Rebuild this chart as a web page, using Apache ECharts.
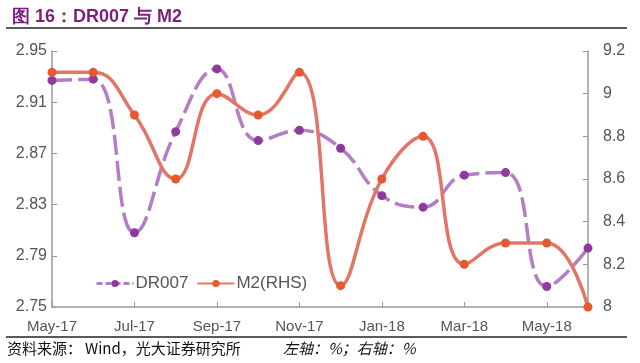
<!DOCTYPE html>
<html><head><meta charset="utf-8">
<script src="https://cdn.jsdelivr.net/npm/echarts@6/dist/echarts.min.js"></script>
<style>html,body{margin:0;padding:0;background:#fff;}#c{width:640px;height:363px;}</style>
</head><body><div id="c"></div>
<script>
const categories = ['May-17','Jun-17','Jul-17','Aug-17','Sep-17','Oct-17','Nov-17','Dec-17','Jan-18','Feb-18','Mar-18','Apr-18','May-18','Jun-18'];
const dr007 = [2.927, 2.928, 2.808, 2.887, 2.936, 2.880, 2.888, 2.874, 2.837, 2.828, 2.853, 2.855, 2.766, 2.796];
const m2 = [9.1, 9.1, 8.9, 8.6, 9.0, 8.9, 9.1, 8.1, 8.6, 8.8, 8.2, 8.3, 8.3, 8.0];
const leftTicks = {min: 2.75, max: 2.95, interval: 0.04};
const rightTicks = {min: 8, max: 9.2, interval: 0.2};

const chart = echarts.init(document.getElementById('c'), null, {renderer: 'canvas'});
const font = 'Liberation Sans, Arial, sans-serif';
chart.setOption({
  animation: false,
  backgroundColor: '#fff',
  title: {
    text: '图 16：DR007 与 M2', left: 7, top: 3,
    textStyle: {fontSize: 18, fontWeight: 'bold', color: '#7A1F7D', fontFamily: font}
  },
  graphic: [
    {type: 'line', shape: {x1: 6, y1: 28, x2: 627, y2: 28}, style: {stroke: '#222', lineWidth: 1.5}},
    {type: 'line', shape: {x1: 6, y1: 337, x2: 627, y2: 337}, style: {stroke: '#222', lineWidth: 1.5}},
    {type: 'text', left: 7, top: 341, style: {text: '资料来源：', font: '15px "Noto Sans CJK SC", sans-serif', fill: '#111'}},
    {type: 'text', left: 85, top: 341, style: {text: 'Wind，光大证券研究所', font: '15px "Noto Sans CJK SC", sans-serif', fill: '#111'}},
    {type: 'text', left: 283, top: 341, style: {text: '左轴：%；右轴：%', font: 'italic 15px "Noto Sans CJK SC", sans-serif', fill: '#111'}}
  ],
  legend: {
    left: 90, top: 270, itemWidth: 37, itemHeight: 9, itemGap: 8,
    textStyle: {fontSize: 17, color: '#555', fontFamily: font, padding: [0, 0, 0, -3]},
    data: [
      {name: 'DR007', lineStyle: {type: [6, 3], width: 3}},
      {name: 'M2(RHS)'}
    ]
  },
  grid: {left: 52, right: 52, top: 51, bottom: 56},
  xAxis: {
    type: 'category', data: categories, boundaryGap: false,
    axisLine: {lineStyle: {color: '#999', width: 1.5}},
    axisTick: {inside: true, interval: 1, length: 5, lineStyle: {color: '#999'}},
    axisLabel: {interval: 1, fontSize: 15, color: '#555', fontFamily: font, margin: 12}
  },
  yAxis: [
    {type: 'value', min: leftTicks.min, max: leftTicks.max, interval: leftTicks.interval, position: 'left',
     axisLine: {show: true, lineStyle: {color: '#999', width: 1.5}},
     axisTick: {show: true, inside: true, length: 5, lineStyle: {color: '#999'}},
     splitLine: {show: false},
     axisLabel: {fontSize: 16, color: '#555', fontFamily: font, margin: 5, formatter: v => v.toFixed(2)}},
    {type: 'value', min: rightTicks.min, max: rightTicks.max, interval: rightTicks.interval, position: 'right',
     axisLine: {show: true, lineStyle: {color: '#999', width: 1.5}},
     axisTick: {show: true, inside: true, length: 5, lineStyle: {color: '#999'}},
     splitLine: {show: false},
     axisLabel: {fontSize: 16, color: '#555', fontFamily: font, margin: 15, formatter: v => String(Math.round(v*10)/10)}}
  ],
  series: [
    {name: 'DR007', type: 'line', yAxisIndex: 0, data: dr007, smooth: 0.45,
     symbol: 'circle', symbolSize: 9,
     lineStyle: {color: '#B47DC5', width: 3.5, type: [20, 6]},
     itemStyle: {color: '#8F3A9F'}},
    {name: 'M2(RHS)', type: 'line', yAxisIndex: 1, data: m2, smooth: 0.45,
     symbol: 'circle', symbolSize: 9,
     lineStyle: {color: '#E27566', width: 3.5},
     itemStyle: {color: '#E8582E'}}
  ]
});
</script></body></html>
